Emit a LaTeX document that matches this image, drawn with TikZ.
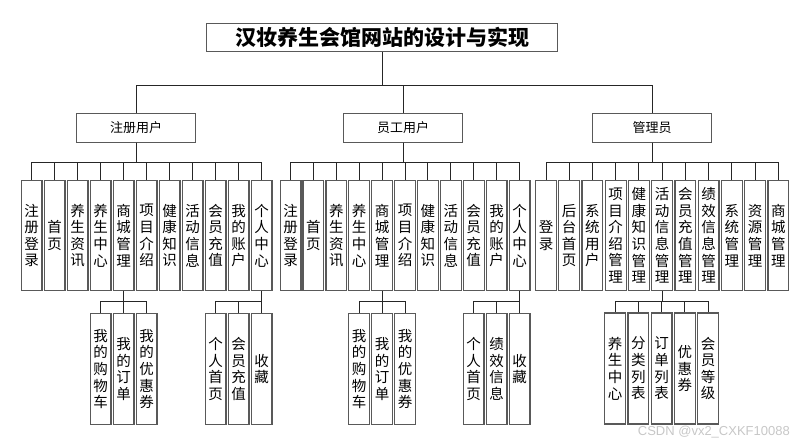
\documentclass[tikz,border=0pt]{standalone}
\usepackage{fontspec}
\newfontfamily\cjk{Noto Sans CJK SC}
\setmainfont{Liberation Sans}
\begin{document}
\begin{tikzpicture}[x=1pt,y=-1pt,
  boxbase/.style={draw=black!65, line width=1.2pt, fill=white, inner sep=0pt, align=center},
  titlebox/.style={boxbase, minimum width=351pt, minimum height=28pt, font=\cjk\bfseries\fontsize{21}{24}\selectfont},
  rolebox/.style={boxbase, minimum width=118.5pt, minimum height=28.5pt, font=\cjk\fontsize{13}{15}\selectfont},
  funcbox/.style={boxbase, minimum width=20.8pt, minimum height=110pt, font=\cjk\fontsize{14.5}{16.6}\selectfont},
  subbox/.style={boxbase, minimum width=20.8pt, minimum height=111pt, font=\cjk\fontsize{14.5}{16.6}\selectfont},
  link/.style={draw=black!85, line width=0.9pt},
  wmark/.style={font=\fontsize{13}{15}\selectfont, text=black!22, inner sep=0pt}
]
\useasboundingbox (0,0) rectangle (799,447);
\coordinate (topbus) at (0,85);
\coordinate (midbus) at (0,162);
\coordinate (lowbus) at (0,301.7);

% title and roles
\node[titlebox] (title) at (382,37.5) {汉妆养生会馆网站的设计与实现};
\node[rolebox] (ra) at (136,128) {注册用户};
\node[rolebox] (rb) at (403,128) {员工用户};
\node[rolebox] (rc) at (652,128) {管理员};
\foreach \r in {ra,rb,rc}
  \draw[link] (title.south) -- (title.south |- topbus) -| (\r.north);

% group A
\foreach \t [count=\i from 0] in {注\\册\\登\\录, 首\\页, 养\\生\\资\\讯, 养\\生\\中\\心, 商\\城\\管\\理, 项\\目\\介\\绍, 健\\康\\知\\识, 活\\动\\信\\息, 会\\员\\充\\值, 我\\的\\账\\户, 个\\人\\中\\心}{
  \node[funcbox] (a\i) at ({31.5+23*\i},235.5) {\t};
  \draw[link] (ra.south) -- (ra.south |- midbus) -| (a\i.north);
}
% group B
\foreach \t [count=\i from 0] in {注\\册\\登\\录, 首\\页, 养\\生\\资\\讯, 养\\生\\中\\心, 商\\城\\管\\理, 项\\目\\介\\绍, 健\\康\\知\\识, 活\\动\\信\\息, 会\\员\\充\\值, 我\\的\\账\\户, 个\\人\\中\\心}{
  \node[funcbox] (b\i) at ({290.5+22.9*\i},235.5) {\t};
  \draw[link] (rb.south) -- (rb.south |- midbus) -| (b\i.north);
}
% group C
\foreach \t [count=\i from 0] in {登\\录, 后\\台\\首\\页, 系\\统\\用\\户, 项\\目\\介\\绍\\管\\理, 健\\康\\知\\识\\管\\理, 活\\动\\信\\息\\管\\理, 会\\员\\充\\值\\管\\理, 绩\\效\\信\\息\\管\\理, 系\\统\\管\\理, 资\\源\\管\\理, 商\\城\\管\\理}{
  \node[funcbox] (c\i) at ({546+23.23*\i},235.5) {\t};
  \draw[link] (rc.south) -- (rc.south |- midbus) -| (c\i.north);
}

% sub groups of A
\foreach \t [count=\i from 0] in {我\\的\\购\\物\\车, 我\\的\\订\\单, 我\\的\\优\\惠\\券}{
  \node[subbox] (as\i) at ({100.5+23*\i},369) {\t};
  \draw[link] (a4.south) -- (a4.south |- lowbus) -| (as\i.north);
}
\foreach \t [count=\i from 0] in {个\\人\\首\\页, 会\\员\\充\\值, 收\\藏}{
  \node[subbox] (at\i) at ({215.5+23*\i},369) {\t};
  \draw[link] (a10.south) -- (a10.south |- lowbus) -| (at\i.north);
}
% sub groups of B
\foreach \t [count=\i from 0] in {我\\的\\购\\物\\车, 我\\的\\订\\单, 我\\的\\优\\惠\\券}{
  \node[subbox] (bs\i) at ({359+23*\i},369) {\t};
  \draw[link] (b4.south) -- (b4.south |- lowbus) -| (bs\i.north);
}
\foreach \t [count=\i from 0] in {个\\人\\首\\页, 绩\\效\\信\\息, 收\\藏}{
  \node[subbox] (bt\i) at ({473.5+23*\i},369) {\t};
  \draw[link] (b10.south) -- (b10.south |- lowbus) -| (bt\i.north);
}
% sub group of C
\foreach \t [count=\i from 0] in {养\\生\\中\\心, 分\\类\\列\\表, 订\\单\\列\\表, 优\\惠\\券, 会\\员\\等\\级}{
  \node[subbox] (cs\i) at ({615+23.3*\i},368.5) {\t};
  \draw[link] (c5.south) -- (c5.south |- lowbus) -| (cs\i.north);
}

\node[wmark, anchor=east] (wm) at (790,432.5) {CSDN @vx2\_CXKF10088};
\end{tikzpicture}
\end{document}
